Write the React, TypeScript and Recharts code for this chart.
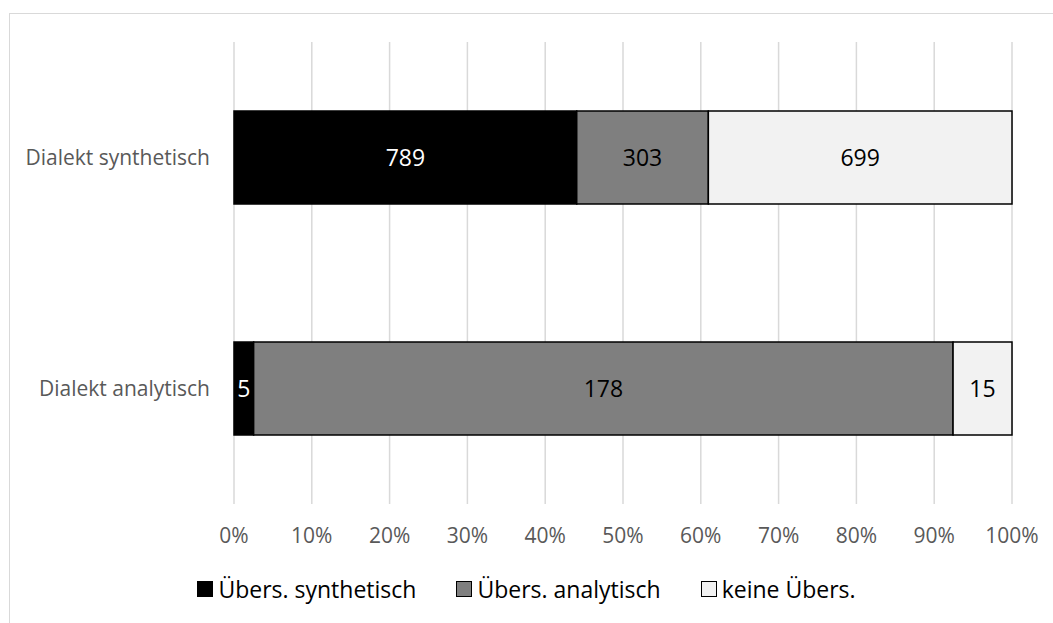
import { BarChart, Bar, XAxis, YAxis, CartesianGrid, LabelList } from 'recharts';

const categories = ['Dialekt synthetisch', 'Dialekt analytisch'];
const uebersSynthetisch = [789, 5];
const uebersAnalytisch = [303, 178];
const keineUebers = [699, 15];
const xTicks = [0, 0.1, 0.2, 0.3, 0.4, 0.5, 0.6, 0.7, 0.8, 0.9, 1];

const seriesInfo = [
  { key: 'synth', name: 'Übers. synthetisch', fill: '#000000', label: '#ffffff' },
  { key: 'analyt', name: 'Übers. analytisch', fill: '#7f7f7f', label: '#000000' },
  { key: 'keine', name: 'keine Übers.', fill: '#f2f2f2', label: '#000000' },
];

const data = categories.map((name, i) => ({
  name,
  synth: uebersSynthetisch[i],
  analyt: uebersAnalytisch[i],
  keine: keineUebers[i],
}));

const FONT = '"Open Sans", "Noto Sans", sans-serif';

export default function App() {
  return (
    <div style={{ position: 'absolute', left: 0, top: 0, width: 1053, height: 623, background: '#fff', fontFamily: FONT, overflow: 'hidden' }}>
      {/* chart frame, only top and left edges are visible */}
      <div style={{ position: 'absolute', left: 9, top: 13, width: 1060, height: 620, borderTop: '1.5px solid #d9d9d9', borderLeft: '1.5px solid #d9d9d9' }} />

      <div style={{ position: 'absolute', left: 0, top: 0 }}>
        <BarChart
          width={1053}
          height={623}
          data={data}
          layout="vertical"
          stackOffset="expand"
          margin={{ top: 42, right: 41, bottom: 89, left: 0 }}
        >
          <CartesianGrid horizontal={false} stroke="#d9d9d9" strokeWidth={1.5} />
          <XAxis
            type="number"
            domain={[0, 1]}
            ticks={xTicks}
            tickFormatter={(v: number) => `${Math.round(v * 100)}%`}
            axisLine={false}
            tickLine={false}
            height={30}
            tickMargin={18}
            tick={{ fill: '#595959', fontSize: 21, fontFamily: FONT }}
            interval={0}
          />
          <YAxis
            type="category"
            dataKey="name"
            width={234}
            axisLine={false}
            tickLine={false}
            tickMargin={18}
            tick={{ fill: '#595959', fontSize: 21, fontFamily: FONT }}
          />
          {seriesInfo.map((s) => (
            <Bar
              key={s.key}
              dataKey={s.key}
              name={s.name}
              stackId="a"
              fill={s.fill}
              stroke="#000000"
              strokeWidth={1.5}
              barSize={93}
              isAnimationActive={false}
            >
              <LabelList
                dataKey={s.key}
                position="center"
                fill={s.label}
                style={{ fontSize: 23, fontFamily: FONT }}
              />
            </Bar>
          ))}
        </BarChart>
      </div>

      <div style={{ position: 'absolute', left: 0, top: 573, width: 1053, display: 'flex', justifyContent: 'center', gap: 40, fontSize: 23, color: '#000', lineHeight: '32px' }}>
        {seriesInfo.map((s) => (
          <div key={s.key} style={{ display: 'flex', alignItems: 'center' }}>
            <span style={{ display: 'inline-block', width: 14, height: 14, background: s.fill, border: '1px solid #000', marginRight: 5 }} />
            <span>{s.name}</span>
          </div>
        ))}
      </div>
    </div>
  );
}
